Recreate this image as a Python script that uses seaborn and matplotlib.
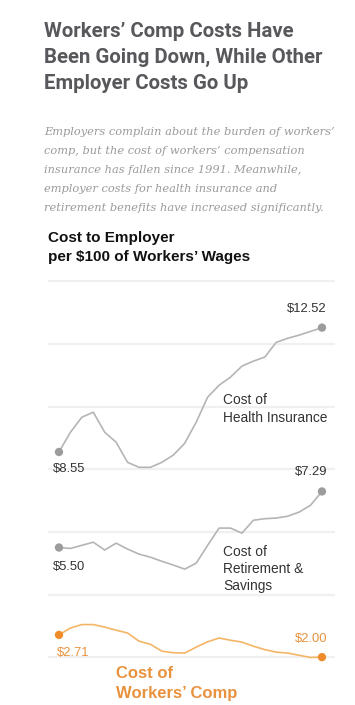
import matplotlib
matplotlib.use("Agg")
import matplotlib.pyplot as plt
import numpy as np
import pandas as pd
import seaborn as sns

# data, dollars per $100 of wages, 1991-2014
years = list(range(1991, 2015))
health = [8.55, 9.18, 9.66, 9.82, 9.18, 8.86, 8.22, 8.06, 8.06, 8.22, 8.45, 8.83,
          9.50, 10.30, 10.68, 10.94, 11.29, 11.45, 11.58, 12.05, 12.18, 12.28, 12.40, 12.52]
retirement = [5.50, 5.47, 5.57, 5.67, 5.42, 5.64, 5.45, 5.29, 5.19, 5.06, 4.94, 4.81,
              5.00, 5.57, 6.12, 6.12, 5.96, 6.37, 6.42, 6.44, 6.50, 6.63, 6.85, 7.29]
workers_comp = [2.71, 2.93, 3.04, 3.04, 2.96, 2.86, 2.77, 2.51, 2.41, 2.19, 2.14, 2.13,
                2.32, 2.49, 2.61, 2.54, 2.48, 2.35, 2.24, 2.16, 2.13, 2.06, 1.99, 2.00]
series_names = ["Health", "Retirement", "Workers"]
y_ticks = [2, 4, 6, 8, 10, 12, 14]

df = pd.DataFrame({
    "year": years * 3,
    "cost": health + retirement + workers_comp,
    "series": np.repeat(series_names, len(years)),
})
ends = df[df["year"].isin([years[0], years[-1]])]

GRAY_LINE = "#b5b5b5"
GRAY_DOT = "#9c9c9c"
ORANGE_LINE = "#f5b566"
ORANGE_DOT = "#ee8c2c"
ORANGE_TXT = "#e8923e"

sns.set_theme(style="white")
plt.rcParams["font.family"] = ["Liberation Sans", "DejaVu Sans"]

fig = plt.figure(figsize=(3.55, 7.05), dpi=100)
W, H = 355, 705

# axes placed in pixel terms: $14 grid at y=281, $2 grid at y=657
ax = fig.add_axes([48 / W, (H - 701) / H, 287 / W, 426 / H])

sns.lineplot(data=df, x="year", y="cost", hue="series", ax=ax, legend=False,
             palette={"Health": GRAY_LINE, "Retirement": GRAY_LINE, "Workers": ORANGE_LINE},
             linewidth=1.2)
sns.scatterplot(data=ends, x="year", y="cost", hue="series", ax=ax, legend=False,
                palette={"Health": GRAY_DOT, "Retirement": GRAY_DOT, "Workers": ORANGE_DOT},
                s=36, edgecolor="none", zorder=5)

ax.set_xlim(1990.04, 2015.14)
ax.set_ylim(0.6, 14.2)
ax.set_yticks(y_ticks)
ax.yaxis.grid(True, color="#f0f0f0", linewidth=1.6)
ax.set_axisbelow(True)
ax.tick_params(left=False, bottom=False, labelleft=False, labelbottom=False)
ax.set_xlabel("")
ax.set_ylabel("")
for s in ax.spines.values():
    s.set_visible(False)

# end value labels
def val_label(x, y, dx, dy, ha, color):
    ax.annotate(f"${y:.2f}", xy=(x, y), xytext=(dx, dy), textcoords="offset pixels",
                ha=ha, va="center", fontsize=9.4, color=color)

val_label(years[-1], health[-1], 5, 19, "right", "#333333")
val_label(years[0], health[0], -6, -17, "left", "#333333")
val_label(years[-1], retirement[-1], 5, 19, "right", "#333333")
val_label(years[0], retirement[0], -6, -19, "left", "#333333")
val_label(years[-1], workers_comp[-1], 5, 18, "right", ORANGE_TXT)
val_label(years[0], workers_comp[0], -2, -18, "left", ORANGE_TXT)

# series labels
ax.text(2005.34, 9.92, "Cost of\nHealth Insurance", fontsize=9.9, color="#333333",
        ha="left", va="center", linespacing=1.3)
ax.text(2005.34, 4.81, "Cost of\nRetirement &\nSavings", fontsize=9.9, color="#333333",
        ha="left", va="center", linespacing=1.3)
ax.text(1995.98, 1.15, "Cost of\nWorkers\u2019 Comp", fontsize=12, color=ORANGE_TXT,
        fontweight="bold", ha="left", va="center", linespacing=1.4)

# headings
fig.text(44 / W, 1 - 22 / H,
         "Workers\u2019 Comp Costs Have\nBeen Going Down, While Other\nEmployer Costs Go Up",
         family=["Roboto", "Liberation Sans", "DejaVu Sans"],
         fontsize=14.7, fontweight="bold", color="#58585c", ha="left", va="top",
         linespacing=1.45)
fig.text(44 / W, 1 - 127 / H,
         "Employers complain about the burden of workers\u2019\n"
         "comp, but the cost of workers\u2019 compensation\n"
         "insurance has fallen since 1991. Meanwhile,\n"
         "employer costs for health insurance and\n"
         "retirement benefits have increased significantly.",
         family=["DejaVu Serif"], style="italic", fontsize=8.2, color="#9a9a9a",
         ha="left", va="top", linespacing=2.12)
fig.text(48 / W, 1 - 231 / H, "Cost to Employer\nper $100 of Workers\u2019 Wages",
         fontsize=11, fontweight="bold", color="#111111", ha="left", va="top",
         linespacing=1.45)

fig.savefig("out.png", dpi=100, facecolor="white")
